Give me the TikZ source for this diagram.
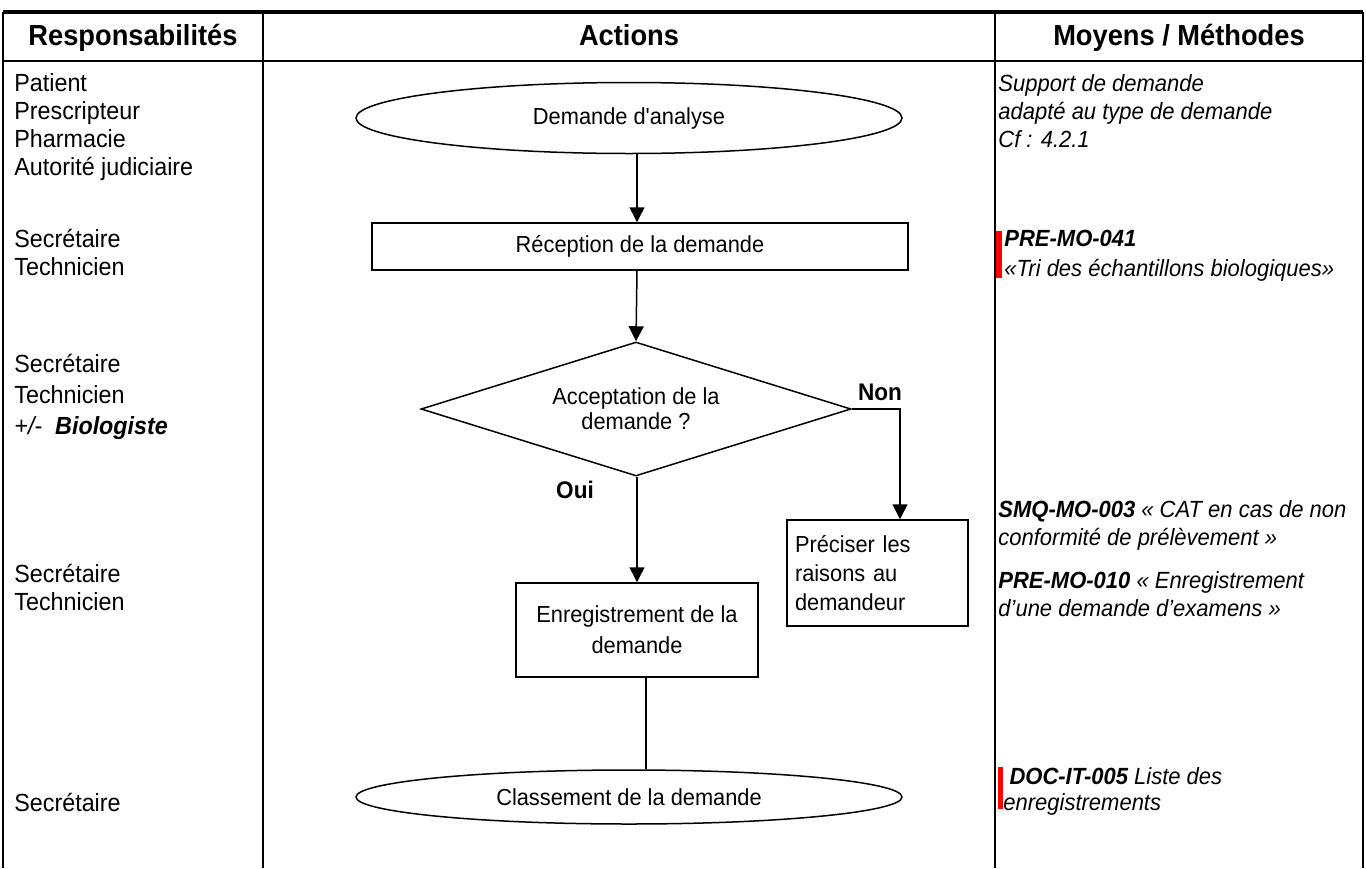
\documentclass[tikz,border=0pt]{standalone}
\usepackage{fontspec}
\newfontfamily\docfont{Liberation Sans}[FakeStretch=0.94]
\usetikzlibrary{shapes.geometric,arrows.meta}

\begin{document}
\begin{tikzpicture}[x=0.5pt,y=-0.5pt,
    every node/.style={font=\docfont\fontsize{12.4}{14}\selectfont},
    tbl/.style={line width=1pt},
    head/.style={anchor=base,font=\docfont\fontsize{14.5}{16}\selectfont\bfseries},
    flow/.style={line width=0.75pt},
    arr/.style={flow,-{Triangle[width=7.5pt,length=7.5pt]}},
    small/.style={font=\docfont\fontsize{11.6}{#1}\selectfont},
    term/.style={draw,flow,ellipse,small=14,minimum width=273pt,minimum height=#1,inner sep=0pt},
    act/.style={draw,flow,rectangle,inner sep=0pt},
    decide/.style={draw,flow,diamond,small=12.5,aspect=3.2,inner sep=0pt,minimum width=215pt,minimum height=67pt,align=center},
    txt/.style={anchor=north west,inner sep=0pt,align=left},
    ref/.style={txt,font=\docfont\fontsize{11.7}{14}\selectfont\itshape},
    yesno/.style={font=\docfont\fontsize{12}{14}\selectfont\bfseries}]
    \useasboundingbox (0,0) rectangle (1366,868);

    % Table %
    \draw[line width=1.6pt] (3,12) -- (1363,12);
    \draw[tbl] (3,61) -- (1363,61);
    \draw[tbl] (3,12) -- (3,868) (263,12) -- (263,868) (995,12) -- (995,868) (1363,12) -- (1363,868);
    \node[head] (hresp) at (133,45) {Responsabilités};
    \node[head] (hact) at (629,45) {Actions};
    \node[head] (hmoy) at (1179,45) {Moyens / Méthodes};

    % Responsabilites %
    \node[txt] (rdem) at (14,73) {Patient\\Prescripteur\\Pharmacie\\Autorité judiciaire};
    \node[txt] (rrec) at (14,229) {Secrétaire\\Technicien};
    \node[txt] (racc) at (14,354) {Secrétaire\\[1.5pt]Technicien\\[1.5pt]\textit{+/-\ \ \textbf{Biologiste}}};
    \node[txt] (renr) at (14,564) {Secrétaire\\Technicien};
    \node[txt] (rcla) at (14,793) {Secrétaire};

    % Actions %
    \coordinate (stem) at (637,0);
    \coordinate (nonx) at (900,0);
    \coordinate (tail) at (646,0);
    \node[term=35.5pt] (dem) at (629,118) {Demande d'analyse};
    \node[act,small=14,minimum width=268pt,minimum height=23.5pt] (rec) at (640,246.5) {Réception de la demande};
    \node[decide] (acc) at (636,409) {Acceptation de la\\demande ?};
    \node[act,small=14.5,align=left,text width=82.5pt,inner xsep=4pt,minimum height=53pt] (pre) at (877.5,573) {Préciser les\\raisons au\\demandeur};
    \node[act,small=15.5,align=center,minimum width=121pt,minimum height=47pt] (enr) at (637,630) {Enregistrement de la\\demande};
    \node[term=27pt] (cla) at (629,797) {Classement de la demande};
    \node[yesno] (non) at (880,392) {Non};
    \node[yesno] (oui) at (575,490) {Oui};

    \draw[arr] (dem.south -| stem) -- (rec.north -| stem);
    \draw[arr] (rec.south -| stem) -- (acc.north);
    \draw[arr] (acc.east) -| (pre.north -| nonx);
    \draw[arr] (acc.south -| stem) -- (enr.north -| stem);
    \draw[flow] (enr.south -| tail) -- (cla.north -| tail);

    % Moyens / Methodes %
    \node[ref] (mdem) at (998,74) {Support de demande\\adapté au type de demande\\Cf : 4.2.1};
    \fill[red] (996,231) rectangle (1002,278);
    \node[ref] (mrec) at (1004,230) {\textbf{PRE-MO-041}\\[1pt]«Tri des échantillons biologiques»};
    \node[ref] (mnon) at (998,500) {\textbf{SMQ-MO-003} « CAT en cas de non\\conformité de prélèvement »};
    \node[ref] (menr) at (998,571) {\textbf{PRE-MO-010} « Enregistrement\\d’une demande d’examens »};
    \fill[red] (998,767) rectangle (1003,809);
    \node[ref] (mcla) at (1003,767) {\ \textbf{DOC-IT-005} Liste des\\[-1pt]enregistrements};
\end{tikzpicture}
\end{document}
